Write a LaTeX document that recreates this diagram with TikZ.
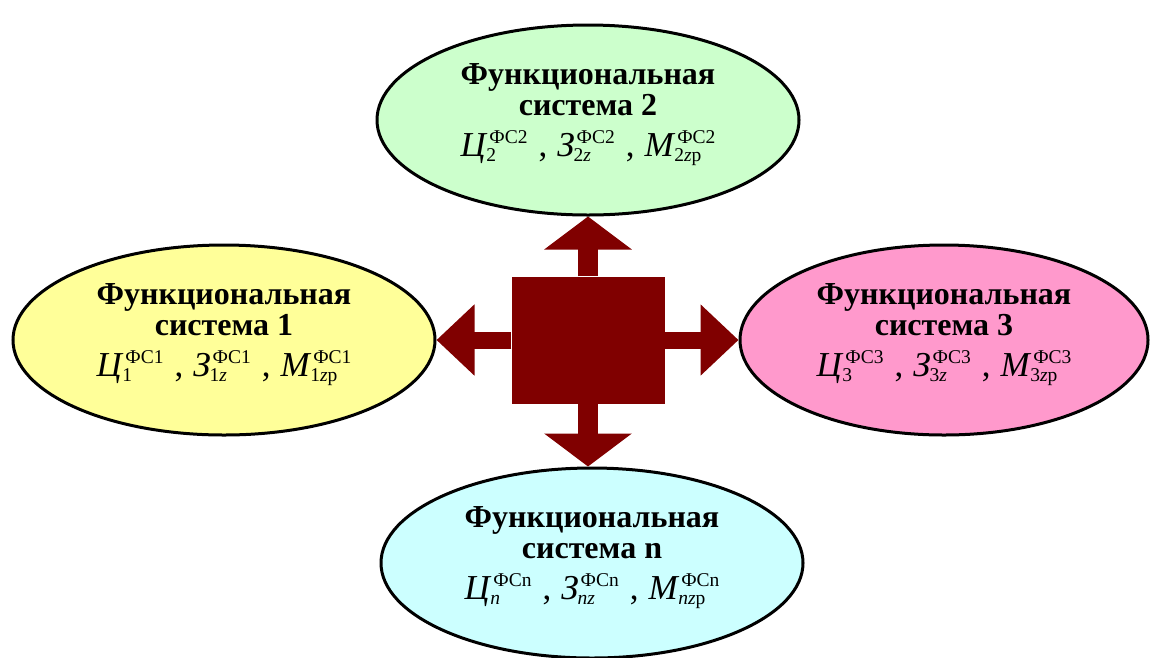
\documentclass[tikz,border=0pt]{standalone}
\usepackage{fontspec}
\setmainfont{Liberation Serif}
\usepackage{graphicx}
\usetikzlibrary{shapes.geometric,arrows.meta}

\definecolor{fsgreen}{HTML}{CCFFCC}
\definecolor{fsyellow}{HTML}{FFFF99}
\definecolor{fspink}{HTML}{FF99CC}
\definecolor{fscyan}{HTML}{CCFFFF}
\definecolor{hubred}{HTML}{800000}

\newcommand{\ttl}{\bfseries}
% index letters: superscript over subscript
\newcommand{\fsscr}[2]{{\fontsize{19.5}{19.5}\selectfont
  \setbox0\hbox{#1}\setbox2\hbox{#2}%
  \ifdim\wd0<\wd2 \wd0=\wd2 \fi
  \rlap{\hspace{-1pt}\raisebox{-5pt}{\box2}}\hspace{2pt}\raisebox{13pt}{\box0}}}
\newcommand{\fsvar}[3]{\textit{#1}\fsscr{#2}{#3}}
\newcommand{\fssep}{\hspace{11pt},\hspace{10pt}}
\newcommand{\frm}[1]{\fontsize{35}{35}\selectfont #1\rule[-20pt]{0pt}{0pt}}

\tikzset{
  fsys/.style={ellipse, draw=black, line width=3pt, inner sep=0pt,
    minimum width=422pt, minimum height=190pt, align=center,
    font=\fontsize{32}{31}\selectfont},
  vertarrow/.style={hubred, line width=20pt, -{Triangle[width=86pt,length=33pt]}},
  horarrow/.style={hubred, line width=17pt, -{Triangle[width=69pt,length=38pt]}}
}

\begin{document}
\begin{tikzpicture}[x=1pt,y=-1pt]
\useasboundingbox (0,0) rectangle (1150,657);

\node[fsys, fill=fsgreen] (fs2) at (588,120)
  {\ttl Функциональная\\\ttl система 2\\[10pt]
   \frm{\fsvar{Ц}{ФС2}{2}\fssep\fsvar{З}{ФС2}{2\textit{z}}\fssep\fsvar{М}{ФС2}{2\textit{z}р}}};
\node[fsys, fill=fsyellow] (fs1) at (224,340)
  {\ttl Функциональная\\\ttl система 1\\[10pt]
   \frm{\fsvar{Ц}{ФС1}{1}\fssep\fsvar{З}{ФС1}{1\textit{z}}\fssep\fsvar{М}{ФС1}{1\textit{z}р}}};
\node[fsys, fill=fspink, minimum width=408pt] (fs3) at (944,340)
  {\ttl Функциональная\\\ttl система 3\\[10pt]
   \frm{\fsvar{Ц}{ФС3}{3}\fssep\fsvar{З}{ФС3}{3\textit{z}}\fssep\fsvar{М}{ФС3}{3\textit{z}р}}};
\node[fsys, fill=fscyan] (fsn) at (592,563)
  {\ttl Функциональная\\\ttl система n\\[10pt]
   \frm{\fsvar{Ц}{ФСn}{\textit{n}}\fssep\fsvar{З}{ФСn}{\textit{nz}}\fssep\fsvar{М}{ФСn}{\textit{nz}р}}};

\node[fill=hubred, inner sep=0pt, minimum width=153pt, minimum height=127pt] (hub) at (588,340) {};

\draw[vertarrow] (hub.north) -- (hub.north |- fs2.south);
\draw[vertarrow] (hub.south) -- (hub.south |- fsn.north);
\draw[horarrow] (hub.west) -- (fs1.east);
\draw[horarrow] (hub.east) -- (fs3.west);
\end{tikzpicture}
\end{document}
